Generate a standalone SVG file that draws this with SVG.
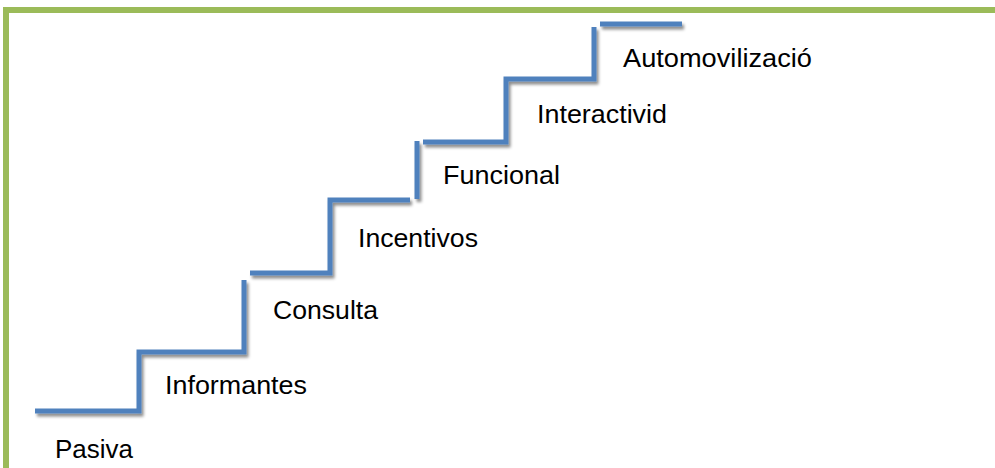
<svg xmlns="http://www.w3.org/2000/svg" width="995" height="468" viewBox="0 0 995 468">
<style>
.border{fill:none;stroke:#9BBB59;stroke-width:6}
.stair{fill:none;stroke:#4F81BD;stroke-width:5;stroke-linejoin:miter;stroke-linecap:butt;filter:url(#sh)}
.lbl{font-family:"Liberation Sans",Arial,sans-serif;font-size:26px;fill:#000}
</style>
<defs>
<filter id="sh" filterUnits="userSpaceOnUse" x="0" y="0" width="995" height="468">
<feDropShadow dx="2" dy="3" stdDeviation="1.5" flood-color="#000" flood-opacity="0.45"/>
</filter>
</defs>
<rect width="995" height="468" fill="#fff"/>
<path class="border" d="M6,468 V10 H995"/>
<g id="connectors">
<path class="stair" d="M35,411 H139 V352 H244 V280"/>
<path class="stair" d="M250,273 H330 V200 H410"/>
<path class="stair" d="M417,199 V141"/>
<path class="stair" d="M423,142 H506 V79 H594 V27"/>
<path class="stair" d="M600,24 H682"/>
</g>
<g id="n-pasiva"><text class="lbl" x="55" y="458" textLength="78" lengthAdjust="spacingAndGlyphs">Pasiva</text></g>
<g id="n-informantes"><text class="lbl" x="165" y="394" textLength="142" lengthAdjust="spacingAndGlyphs">Informantes</text></g>
<g id="n-consulta"><text class="lbl" x="273" y="319" textLength="105" lengthAdjust="spacingAndGlyphs">Consulta</text></g>
<g id="n-incentivos"><text class="lbl" x="358" y="247" textLength="120" lengthAdjust="spacingAndGlyphs">Incentivos</text></g>
<g id="n-funcional"><text class="lbl" x="443" y="184" textLength="117" lengthAdjust="spacingAndGlyphs">Funcional</text></g>
<g id="n-interactivid"><text class="lbl" x="537" y="123" textLength="130" lengthAdjust="spacingAndGlyphs">Interactivid</text></g>
<g id="n-automovilizacio"><text class="lbl" x="623" y="67" textLength="189" lengthAdjust="spacingAndGlyphs">Automovilizació</text></g>
</svg>
